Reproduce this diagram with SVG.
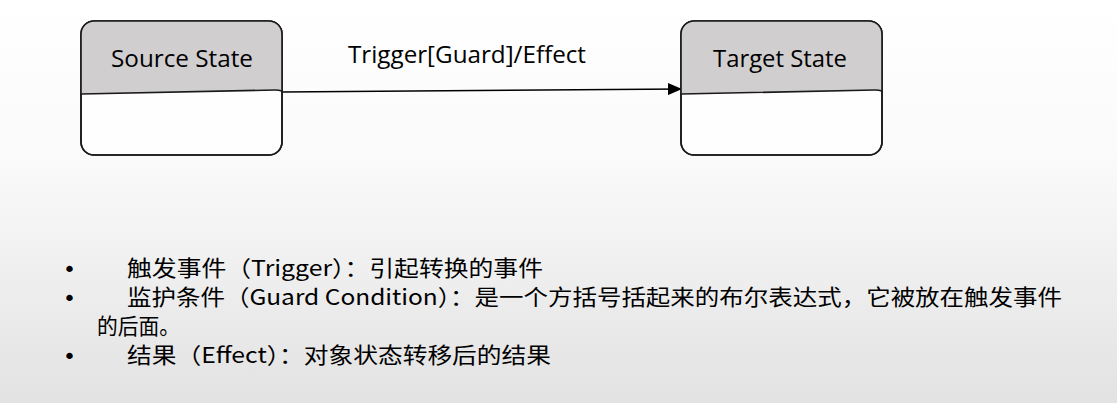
<svg xmlns="http://www.w3.org/2000/svg" width="1117" height="403" viewBox="0 0 1117 403">
<defs>
<linearGradient id="bg" x1="0" y1="0" x2="0" y2="1">
<stop offset="0" stop-color="#ffffff"/>
<stop offset="0.4" stop-color="#fafafa"/>
<stop offset="1" stop-color="#e2e2e2"/>
</linearGradient>
<marker id="arr" markerWidth="14" markerHeight="12" refX="13" refY="6" orient="auto" markerUnits="userSpaceOnUse">
<path d="M0,0 L14,6 L0,12 Z" fill="#000"/>
</marker>
<clipPath id="c1"><rect x="81" y="21" width="201" height="134" rx="13"/></clipPath>
<clipPath id="c2"><rect x="681" y="21" width="201" height="134" rx="13"/></clipPath>
</defs>
<style>
.box{fill:#fefefe;stroke:#1a1a1a;stroke-width:1.6}
.hdr{fill:#d0cece}
.div{fill:none;stroke:#1a1a1a;stroke-width:1.6}
.ttl{font-family:"Open Sans","Noto Sans",sans-serif;font-size:24px;fill:#000;text-anchor:middle}
.lbl{font-family:"Open Sans","Noto Sans",sans-serif;font-size:24px;fill:#000}
.body{font-family:"Noto Sans CJK SC","Noto Sans",sans-serif;font-size:22px;fill:#000}
.bul{font-family:"DejaVu Sans",sans-serif;font-size:22px;fill:#000}
</style>
<rect x="0" y="0" width="1117" height="403" fill="url(#bg)"/>
<g id="connectors">
<line x1="282" y1="92" x2="681" y2="89" stroke="#000" stroke-width="1.4" marker-end="url(#arr)"/>
<text class="lbl" x="348" y="63" textLength="238" lengthAdjust="spacingAndGlyphs">Trigger[Guard]/Effect</text>
</g>
<g id="source-state">
<rect class="box" x="81" y="21" width="201" height="134" rx="13"/>
<path class="hdr" clip-path="url(#c1)" d="M81,21 L282,21 L282,91 L275,90 L81,94 Z"/>
<path class="div" d="M81,94 L275,90 Q279,90 282,91"/>
<rect x="81" y="21" width="201" height="134" rx="13" fill="none" stroke="#1a1a1a" stroke-width="1.6"/>
<text class="ttl" x="182" y="67" textLength="142" lengthAdjust="spacingAndGlyphs">Source State</text>
</g>
<g id="target-state">
<rect class="box" x="681" y="21" width="201" height="134" rx="13"/>
<path class="hdr" clip-path="url(#c2)" d="M681,21 L882,21 L882,91 L875,90 L681,94 Z"/>
<path class="div" d="M681,94 L875,90 Q879,90 882,91"/>
<rect x="681" y="21" width="201" height="134" rx="13" fill="none" stroke="#1a1a1a" stroke-width="1.6"/>
<text class="ttl" x="780" y="67" textLength="134" lengthAdjust="spacingAndGlyphs">Target State</text>
</g>
<g id="notes">
<text class="bul" x="63" y="277">•</text>
<text class="body" x="127" y="276" textLength="416" lengthAdjust="spacingAndGlyphs">触发事件（Trigger）：引起转换的事件</text>
<text class="bul" x="63" y="306">•</text>
<text class="body" x="127" y="305" textLength="935" lengthAdjust="spacingAndGlyphs">监护条件（Guard Condition）：是一个方括号括起来的布尔表达式，它被放在触发事件</text>
<text class="body" x="97" y="334" textLength="83" lengthAdjust="spacingAndGlyphs">的后面。</text>
<text class="bul" x="63" y="364">•</text>
<text class="body" x="127" y="363" textLength="424" lengthAdjust="spacingAndGlyphs">结果（Effect）：对象状态转移后的结果</text>
</g>
</svg>
